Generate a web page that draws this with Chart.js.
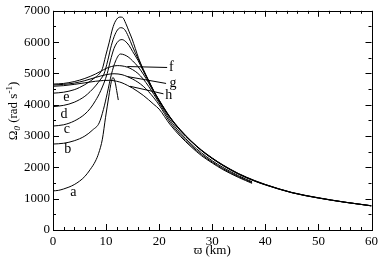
<!DOCTYPE html>
<html>
<head>
<meta charset="utf-8">
<script src="https://cdn.jsdelivr.net/npm/chart.js@4/dist/chart.umd.min.js"></script>
<style>
  html, body { margin: 0; padding: 0; background: #fff; }
  canvas { display: block; }
</style>
</head>
<body>
<canvas id="omega-chart" width="382" height="259"></canvas>
<script>
'use strict';

// Curve a (hook, stops just after its maximum)
const aX = [0, 1, 2, 3, 4, 5, 6, 7, 8, 8.6, 9.3, 9.9, 10.5, 11, 11.3, 11.7, 12, 12.3];
const aY = [1250, 1265, 1310, 1370, 1450, 1560, 1710, 1930, 2200, 2450, 2900, 3600, 4250, 4750, 4870, 4720, 4450, 4150];

const bX = [0, 2, 4, 6, 7.5, 8.7, 9.5, 10.2, 11, 11.8, 12.7, 13.5, 14.3, 15, 16, 17, 18, 19, 20, 22, 24, 26, 28, 30, 32, 35, 38, 40, 45, 50, 55, 60];
const bY = [2745, 2770, 2850, 3000, 3200, 3420, 3850, 4350, 4970, 5400, 5620, 5590, 5510, 5400, 5220, 4980, 4700, 4400, 4110, 3590, 3170, 2830, 2530, 2280, 2060, 1780, 1560, 1440, 1190, 1020, 885, 770];

const cX = [0, 2, 4, 6, 7, 8, 9, 10.2, 10.8, 11.5, 12.3, 13, 13.6, 14.3, 15, 16, 17, 18, 19, 20, 22, 24, 26, 28, 30, 32, 35, 38, 40, 45, 50, 55, 60];
const cY = [3320, 3360, 3480, 3700, 3880, 4130, 4450, 4990, 5400, 5800, 6030, 6080, 6030, 5900, 5700, 5420, 5080, 4750, 4420, 4130, 3600, 3180, 2835, 2535, 2285, 2065, 1785, 1565, 1445, 1192, 1022, 887, 771];

const dX = [0, 2, 4, 6, 7, 8, 9, 9.6, 10.3, 11, 11.7, 12.3, 12.8, 13.5, 14.2, 15, 16, 17, 18, 19, 20, 22, 24, 26, 28, 30, 32, 35, 38, 40, 45, 50, 55, 60];
const dY = [3940, 3980, 4080, 4270, 4420, 4600, 4820, 4980, 5400, 5900, 6250, 6420, 6460, 6400, 6180, 5850, 5480, 5120, 4770, 4430, 4140, 3610, 3190, 2840, 2540, 2290, 2070, 1790, 1570, 1450, 1195, 1025, 888, 772];

const eX = [0, 2, 4, 5, 6, 7, 8, 8.7, 9.3, 9.9, 10.6, 11.2, 11.8, 12.6, 13.1, 13.7, 14.3, 14.9, 15.5, 16.1, 17, 18, 19, 20, 22, 24, 26, 28, 30, 32, 35, 38, 40, 45, 50, 55, 60];
const eY = [4370, 4400, 4480, 4550, 4640, 4750, 4880, 4980, 5150, 5550, 6000, 6420, 6680, 6800, 6790, 6600, 6350, 6100, 5800, 5500, 5130, 4780, 4440, 4150, 3620, 3200, 2850, 2550, 2300, 2080, 1800, 1580, 1455, 1200, 1030, 890, 775];

// Curves f, g, h stop at about 37.5 km
const fX = [0, 2, 4, 6, 8, 9, 10, 11, 12.1, 13, 14, 15, 16, 17, 18, 19, 20, 22, 24, 26, 28, 30, 32, 35, 37.5];
const fY = [4660, 4680, 4740, 4840, 4980, 5070, 5160, 5220, 5250, 5240, 5200, 5120, 5000, 4820, 4590, 4330, 4060, 3520, 3100, 2750, 2460, 2210, 2000, 1730, 1540];

const gX = [0, 2, 4, 6, 8, 10, 11.5, 13, 14, 15, 16, 17, 18, 19, 20, 22, 24, 26, 28, 30, 32, 35, 37.5];
const gY = [4630, 4650, 4690, 4770, 4870, 4960, 4990, 4960, 4900, 4820, 4720, 4590, 4420, 4220, 3990, 3450, 3040, 2700, 2410, 2170, 1960, 1700, 1515];

const hX = [0, 2, 4, 6, 8, 9.5, 10.6, 12, 13, 14, 15, 16, 17, 18, 19, 20, 22, 24, 26, 28, 30, 32, 35, 37.5];
const hY = [4590, 4610, 4650, 4700, 4750, 4775, 4780, 4750, 4700, 4620, 4530, 4420, 4300, 4160, 4010, 3860, 3380, 2990, 2660, 2370, 2140, 1930, 1675, 1490];

// Leader lines from the curves to the f, g, h labels
const leaderF = { x: [14, 21.5], y: [5220, 5190] };
const leaderG = { x: [14, 21.3], y: [4900, 4680] };
const leaderH = { x: [14.5, 20.8], y: [4590, 4350] };

// Curve labels (data coordinates)
const curveLabels = ['a', 'b', 'c', 'd', 'e', 'f', 'g', 'h'];
const labelX = [3.85, 2.8, 2.6, 2.05, 2.5, 22.3, 22.6, 21.8];
const labelY = [1190, 2570, 3230, 3680, 4250, 5190, 4670, 4290];

const xTicks = { min: 0, max: 60, major: 10, minor: 2 };
const yTicks = { min: 0, max: 7000, major: 1000, minor: 500 };

const serif = '"Liberation Serif", "Times New Roman", serif';

function toPoints(xs, ys) {
    return xs.map((x, i) => ({ x: x, y: ys[i] }));
}

function curve(xs, ys) {
    return {
        data: toPoints(xs, ys),
        showLine: true,
        borderColor: '#000',
        borderWidth: 1,
        pointRadius: 0,
        cubicInterpolationMode: 'monotone',
        fill: false
    };
}

function leader(l) {
    return {
        data: toPoints(l.x, l.y),
        showLine: true,
        borderColor: '#000',
        borderWidth: 1,
        pointRadius: 0,
        tension: 0,
        fill: false
    };
}

// Frame, inward ticks on all four sides, curve letters and the y title
const decorations = {
    id: 'decorations',
    afterDraw(chart) {
        const ctx = chart.ctx;
        const area = chart.chartArea;
        const xs = chart.scales.x;
        const ys = chart.scales.y;
        ctx.save();
        ctx.strokeStyle = '#000';
        ctx.lineWidth = 1;
        ctx.strokeRect(Math.round(area.left) + 0.5, Math.round(area.top) + 0.5,
            Math.round(area.right - area.left), Math.round(area.bottom - area.top));

        ctx.beginPath();
        for (let v = xTicks.min; v <= xTicks.max + 1e-9; v += xTicks.minor) {
            const len = (v % xTicks.major === 0) ? 6 : 3;
            const px = Math.round(xs.getPixelForValue(v)) + 0.5;
            ctx.moveTo(px, area.bottom); ctx.lineTo(px, area.bottom - len);
            ctx.moveTo(px, area.top); ctx.lineTo(px, area.top + len);
        }
        for (let v = yTicks.min; v <= yTicks.max + 1e-9; v += yTicks.minor) {
            const len = (v % yTicks.major === 0) ? 6 : 3;
            const py = Math.round(ys.getPixelForValue(v)) + 0.5;
            ctx.moveTo(area.left, py); ctx.lineTo(area.left + len, py);
            ctx.moveTo(area.right, py); ctx.lineTo(area.right - len, py);
        }
        ctx.stroke();

        ctx.fillStyle = '#000';
        ctx.font = '14px ' + serif;
        ctx.textAlign = 'center';
        ctx.textBaseline = 'middle';
        curveLabels.forEach((t, i) => {
            ctx.fillText(t, xs.getPixelForValue(labelX[i]), ys.getPixelForValue(labelY[i]));
        });

        // y title: Omega with subscript 0, (rad s^-1)
        const parts = [
            { t: '\u03A9', font: '13px ' + serif, dy: 0 },
            { t: '0', font: 'italic 9px ' + serif, dy: 3 },
            { t: ' (rad s', font: '13px ' + serif, dy: 0 },
            { t: '-1', font: '9px ' + serif, dy: -5 },
            { t: ')', font: '13px ' + serif, dy: 0 }
        ];
        let total = 0;
        parts.forEach(p => { ctx.font = p.font; p.w = ctx.measureText(p.t).width; total += p.w; });
        ctx.translate(17, 111);
        ctx.rotate(-Math.PI / 2);
        ctx.textAlign = 'left';
        ctx.textBaseline = 'alphabetic';
        let cx = -total / 2;
        parts.forEach(p => {
            ctx.font = p.font;
            ctx.fillText(p.t, cx, p.dy);
            cx += p.w;
        });
        ctx.restore();
    }
};

const ctx = document.getElementById('omega-chart').getContext('2d');
const omegaChart = new Chart(ctx, {
    type: 'scatter',
    data: {
        datasets: [
            curve(aX, aY), curve(bX, bY), curve(cX, cY), curve(dX, dY),
            curve(eX, eY), curve(fX, fY), curve(gX, gY), curve(hX, hY),
            leader(leaderF), leader(leaderG), leader(leaderH)
        ]
    },
    options: {
        responsive: false,
        animation: false,
        events: [],
        layout: { padding: { top: 5, right: 7, left: 0, bottom: 0 } },
        plugins: {
            legend: { display: false },
            tooltip: { enabled: false }
        },
        scales: {
            x: {
                type: 'linear',
                min: xTicks.min,
                max: xTicks.max,
                grid: { display: false, drawTicks: false },
                border: { display: false },
                ticks: {
                    stepSize: xTicks.major,
                    color: '#000',
                    padding: 4,
                    maxRotation: 0,
                    font: { family: serif, size: 13 },
                    callback: v => String(v)
                },
                title: {
                    display: true,
                    text: '\u03D6 (km)',
                    color: '#000',
                    padding: { top: 0, bottom: 1 },
                    font: { family: serif, size: 13 }
                },
                afterFit(scale) { scale.height = 29; }
            },
            y: {
                type: 'linear',
                min: yTicks.min,
                max: yTicks.max,
                grid: { display: false, drawTicks: false },
                border: { display: false },
                ticks: {
                    stepSize: yTicks.major,
                    color: '#000',
                    padding: 3,
                    font: { family: serif, size: 13 },
                    callback: v => String(v)
                },
                afterFit(scale) { scale.width = 53; }
            }
        }
    },
    plugins: [decorations]
});
</script>
</body>
</html>
